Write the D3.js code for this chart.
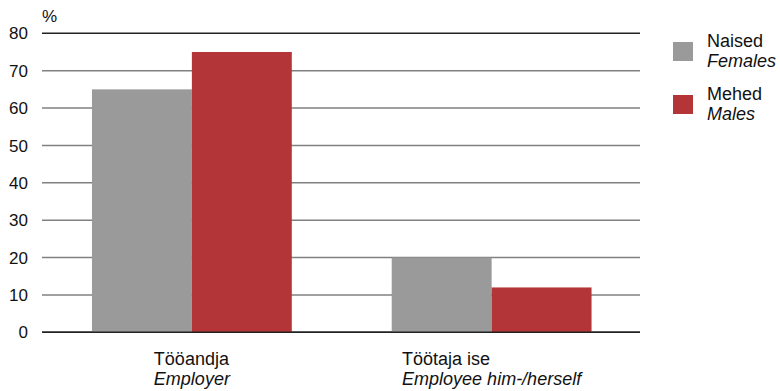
<!DOCTYPE html>
<html><head><meta charset="utf-8">
<script src="https://cdn.jsdelivr.net/npm/d3@7"></script>
<style>body{margin:0;background:#fff}svg{display:block;font-family:"Liberation Sans",Arial,sans-serif}</style>
</head><body><svg id="c" width="780" height="391"></svg>
<script>
const categories = [["Tööandja","Employer"],["Töötaja ise","Employee him-/herself"]];
const seriesNames = [["Naised","Females"],["Mehed","Males"]];
const females = [65, 20];
const males = [75, 12];
const yTicks = [0,10,20,30,40,50,60,70,80];
const colors = ["#9a9a9a", "#b33538"];

(function(){
const svg = d3.select("#c");
const mLeft = 42, mRight = 640, mTop = 33.3, mBottom = 332.3;
const fs = 17, fl = 18;

const x0 = d3.scaleBand().domain(d3.range(categories.length)).range([mLeft, mRight + 1.5]).paddingInner(1/3).paddingOuter(1/6);
const x1 = d3.scaleBand().domain([0,1]).range([0, x0.bandwidth()]);
const y = d3.scaleLinear().domain([0, 80]).range([mBottom, mTop]);

svg.append("g").selectAll("line").data(yTicks).join("line")
  .attr("x1", mLeft).attr("x2", mRight)
  .attr("y1", d => y(d)).attr("y2", d => y(d))
  .attr("stroke", d => (d === 0 || d === 80) ? "#222" : "#808080")
  .attr("stroke-width", 1.4);

svg.append("g").selectAll("text").data(yTicks).join("text")
  .attr("x", 28).attr("y", d => y(d)).attr("dy", "0.36em")
  .attr("text-anchor", "end").attr("font-size", fs).attr("fill", "#111")
  .text(d => d);

svg.append("text").attr("x", 42).attr("y", 22).attr("font-size", fs).attr("fill", "#111").text("%");

const data = categories.map((c, i) => [females[i], males[i]]);
const groups = svg.append("g").selectAll("g").data(data).join("g")
  .attr("transform", (d, i) => `translate(${x0(i)},0)`);
groups.selectAll("rect").data(d => d).join("rect")
  .attr("x", (d, j) => x1(j)).attr("width", x1.bandwidth())
  .attr("y", d => y(d)).attr("height", d => y(0) - y(d))
  .attr("fill", (d, j) => colors[j]);

svg.append("line").attr("x1", mLeft).attr("x2", mRight).attr("y1", y(0)).attr("y2", y(0))
  .attr("stroke", "#222").attr("stroke-width", 1.4);

categories.forEach((c, i) => {
  const g = svg.append("g");
  const t1 = g.append("text").attr("y", 365).attr("font-size", fl).attr("fill", "#111").text(c[0]);
  const t2 = g.append("text").attr("y", 384.5).attr("font-size", fl).attr("fill", "#111").attr("font-style", "italic").text(c[1]);
  const w = Math.max(t1.node().getComputedTextLength(), t2.node().getComputedTextLength());
  const cx = x0(i) + x0.bandwidth() / 2;
  g.selectAll("text").attr("x", cx - w / 2);
});

const leg = svg.append("g");
seriesNames.forEach((s, i) => {
  const oy = i * 53;
  leg.append("rect").attr("x", 673).attr("y", 42 + oy).attr("width", 20).attr("height", 19).attr("fill", colors[i]);
  leg.append("text").attr("x", 707).attr("y", 46.5 + oy).attr("font-size", fl).attr("fill", "#111").text(s[0]);
  leg.append("text").attr("x", 707).attr("y", 67 + oy).attr("font-size", fl).attr("fill", "#111").attr("font-style", "italic").text(s[1]);
});
})();
</script></body></html>
